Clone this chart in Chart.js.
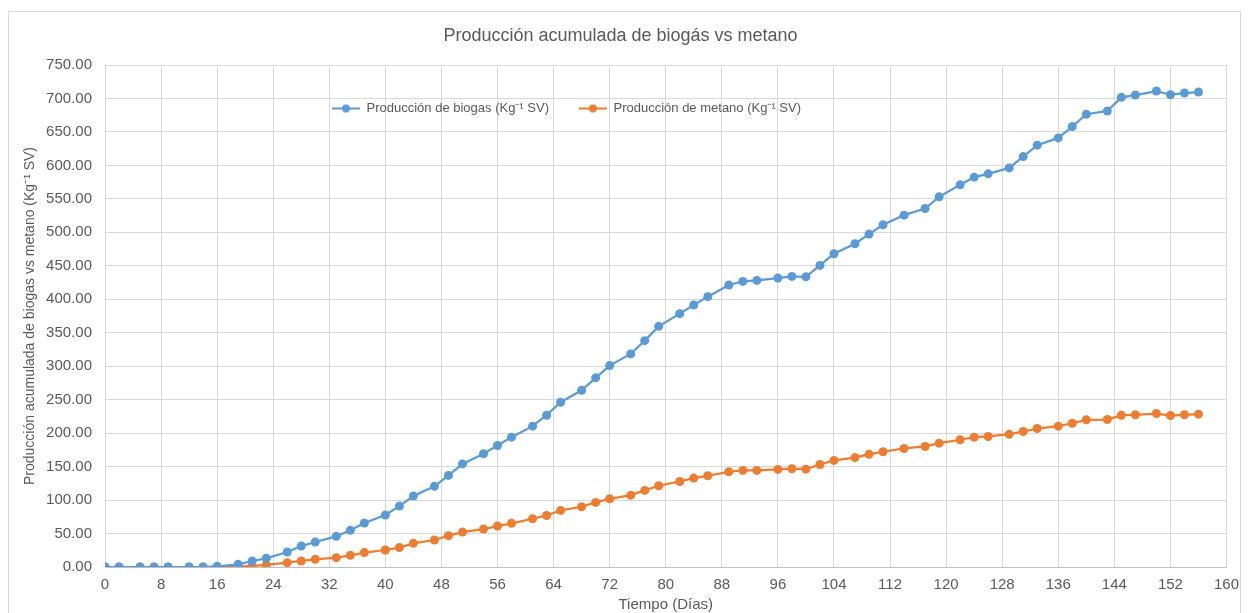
<!DOCTYPE html>
<html>
<head>
<meta charset="utf-8">
<script src="https://cdn.jsdelivr.net/npm/chart.js@4.4.0/dist/chart.umd.min.js"></script>
<style>
  html, body { margin: 0; padding: 0; background: #fff; }
  #wrap { position: absolute; left: 0; top: 0; width: 1248px; height: 613px; }
</style>
</head>
<body>
<div id="wrap"><canvas id="chart" width="1248" height="613"></canvas></div>
<script>
// Producción acumulada de biogás vs metano

const days = [0, 2, 5, 7, 9, 12, 14, 16, 19, 21, 23, 26, 28, 30, 33, 35, 37, 40, 42, 44,
    47, 49, 51, 54, 56, 58, 61, 63, 65, 68, 70, 72, 75, 77, 79, 82, 84, 86, 89, 91,
    93, 96, 98, 100, 102, 104, 107, 109, 111, 114, 117, 119, 122, 124, 126, 129, 131, 133, 136, 138,
    140, 143, 145, 147, 150, 152, 154, 156];

const biogas = [0, 0, 0, 0, 0, 0, 0, 1, 4, 9, 13, 22.4, 31.3, 37.3, 45.8, 54.8, 65.7, 77.6, 91, 106,
    120.6, 136.8, 154, 169.2, 181.6, 194, 210.4, 226.8, 246.2, 264.1, 282.6, 300.9, 318.4, 338.2, 359.5, 378.5, 391.5, 403.9, 421.3, 426.7,
    428.2, 431.7, 434.1, 433.5, 450.6, 468, 482.9, 497.4, 511.3, 525.7, 535.6, 553, 571, 582.4, 587.4, 596.3, 613.2, 630.2, 641.1, 658,
    676.4, 681.3, 701.7, 705.1, 711.1, 705.6, 708.1, 709.6];

const metano = [0, 0, 0, 0, 0, 0, 0, 0, 0.5, 1.5, 3, 6.5, 9, 11.5, 14, 17.5, 21.5, 25.4, 29, 35.4,
    40.3, 46.8, 52.2, 56.7, 61.2, 65.2, 72.1, 77, 84.5, 90, 96.5, 101.9, 107.3, 114.4, 121.4, 127.8, 132.8, 136.3, 142.3, 144.3,
    144.3, 145.8, 146.8, 146.2, 153.2, 159.2, 163.5, 168.5, 172.2, 177.1, 180.1, 185, 190.1, 194, 195, 198.4, 202.4, 206.9, 210.4, 214.8,
    219.9, 220.3, 226.8, 227.4, 229.3, 226.3, 227.4, 228.3];

const seriesNames = ['Producción de biogas (Kg⁻¹ SV)', 'Producción de metano (Kg⁻¹ SV)'];
const seriesColors = ['#5B9BD5', '#ED7D31'];

const FONT = "'Liberation Sans', Arial, sans-serif";
const TEXT = '#595959';
const GRID = '#d9d9d9';

// little "line + dot" marker like Excel's legend
function legendMark(color) {
    const c = document.createElement('canvas');
    c.width = 28;
    c.height = 10;
    const g = c.getContext('2d');
    g.strokeStyle = color;
    g.lineWidth = 2;
    g.beginPath();
    g.moveTo(0, 5);
    g.lineTo(28, 5);
    g.stroke();
    g.fillStyle = color;
    g.beginPath();
    g.arc(14, 5, 4, 0, Math.PI * 2);
    g.fill();
    return c;
}

const frame = {
    id: 'frame',
    beforeDraw(chart) {
        const ctx = chart.ctx;
        ctx.save();
        ctx.fillStyle = '#fff';
        ctx.fillRect(0, 0, chart.width, chart.height);
        ctx.strokeStyle = GRID;
        ctx.lineWidth = 1;
        ctx.strokeRect(8.5, 11.5, 1232, 700);
        ctx.restore();
    },
    beforeLayout(chart) {
        // keep the in-plot legend on one row
        if (chart.legend) chart.legend.isHorizontal = () => true;
    },
    afterLayout(chart) {
        // legend sits inside the plot, left of centre
        const lg = chart.legend;
        lg.left = 302;
        lg.top = 72;
    }
};

const datasets = [biogas, metano].map((vals, i) => ({
    label: seriesNames[i],
    data: days.map((d, j) => ({ x: d, y: vals[j] })),
    borderColor: seriesColors[i],
    backgroundColor: seriesColors[i],
    pointBackgroundColor: seriesColors[i],
    pointBorderWidth: 0,
    pointRadius: 4.5,
    borderWidth: 2.25,
    tension: 0
}));

new Chart(document.getElementById('chart').getContext('2d'), {
    type: 'line',
    data: { datasets: datasets },
    options: {
        responsive: false,
        animation: false,
        layout: { padding: { left: 12, right: 19, top: 0, bottom: 0 } },
        plugins: {
            title: {
                display: true,
                text: 'Producción acumulada de biogás vs metano',
                color: TEXT,
                font: { family: FONT, size: 18, weight: 'normal' },
                padding: { top: 25, bottom: 18.4 }
            },
            legend: {
                position: 'chartArea',
                align: 'start',
                labels: {
                    color: TEXT,
                    font: { family: FONT, size: 13 },
                    usePointStyle: true,
                    pointStyleWidth: 28,
                    padding: 30,
                    generateLabels(chart) {
                        const items = Chart.defaults.plugins.legend.labels.generateLabels(chart);
                        items.forEach((it, i) => { it.pointStyle = legendMark(seriesColors[i]); });
                        return items;
                    }
                }
            },
            tooltip: { enabled: false }
        },
        scales: {
            x: {
                type: 'linear',
                min: 0,
                max: 160,
                afterFit(scale) { scale.height = 46; },
                grid: { color: GRID, drawTicks: false },
                border: { color: '#bfbfbf' },
                ticks: {
                    stepSize: 8,
                    color: TEXT,
                    padding: 9,
                    font: { family: FONT, size: 15 },
                    maxRotation: 0
                },
                title: {
                    display: true,
                    text: 'Tiempo (Días)',
                    color: TEXT,
                    font: { family: FONT, size: 15 },
                    padding: { top: 0, bottom: -1 }
                }
            },
            y: {
                min: 0,
                max: 750,
                afterFit(scale) { scale.width = 93; },
                grid: { color: GRID, drawTicks: false },
                border: { color: GRID },
                ticks: {
                    stepSize: 50,
                    color: TEXT,
                    padding: 13,
                    font: { family: FONT, size: 15 },
                    callback: v => v.toFixed(2)
                },
                title: {
                    display: true,
                    text: 'Producción acumulada de biogas vs metano (Kg⁻¹ SV)',
                    color: TEXT,
                    font: { family: FONT, size: 14 },
                    padding: { top: 10, bottom: 0 }
                }
            }
        }
    },
    plugins: [frame]
});
</script>
</body>
</html>
